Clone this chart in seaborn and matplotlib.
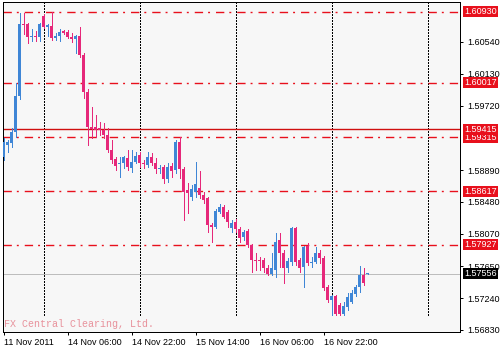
import numpy as np
import pandas as pd
import matplotlib
matplotlib.use("Agg")
import matplotlib.pyplot as plt
import matplotlib.transforms as mtransforms
import seaborn as sns

# ---------------- data (H1 candles) ----------------
opens = [1.59058, 1.59213, 1.59239, 1.59381, 1.59844, 1.60772, 1.60772, 1.60604, 1.60617, 1.60604,
         1.60875, 1.60733, 1.60746, 1.60592, 1.60617, 1.60682, 1.60669, 1.60604, 1.60579, 1.60617,
         1.60373, 1.59896, 1.59445, 1.59445, 1.59432, 1.59406, 1.59342, 1.59149, 1.59033, 1.58968,
         1.58981, 1.59046, 1.58917, 1.58994, 1.59084, 1.58981, 1.58955, 1.59058, 1.58981, 1.58904,
         1.58930, 1.58775, 1.58942, 1.58891, 1.59252, 1.58904, 1.58633, 1.58543, 1.58608, 1.58659,
         1.58569, 1.58530, 1.58182, 1.58157, 1.58350, 1.58414, 1.58350, 1.58144, 1.58221, 1.58131,
         1.58028, 1.58105, 1.57925, 1.57732, 1.57732, 1.57732, 1.57628, 1.57551, 1.57603, 1.57989,
         1.57822, 1.57628, 1.57706, 1.58144, 1.57732, 1.57641, 1.57912, 1.57693, 1.57706, 1.57822,
         1.57757, 1.57384, 1.57216, 1.57268, 1.57152, 1.57036, 1.57126, 1.57190, 1.57293, 1.57384,
         1.57538, 1.57550]
highs = [1.59303, 1.59277, 1.59432, 1.60017, 1.60914, 1.60914, 1.60785, 1.60707, 1.60682, 1.60785,
         1.60901, 1.60772, 1.60930, 1.60656, 1.60707, 1.60695, 1.60695, 1.60656, 1.60630, 1.60733,
         1.60398, 1.59935, 1.59703, 1.59600, 1.59509, 1.59497, 1.59432, 1.59277, 1.59058, 1.59058,
         1.59071, 1.59149, 1.59149, 1.59123, 1.59123, 1.59020, 1.59123, 1.59110, 1.59046, 1.58955,
         1.58955, 1.58981, 1.58981, 1.59277, 1.59315, 1.58930, 1.58723, 1.58698, 1.58994, 1.58878,
         1.58608, 1.58543, 1.58208, 1.58389, 1.58453, 1.58440, 1.58376, 1.58247, 1.58260, 1.58157,
         1.58118, 1.58131, 1.57938, 1.57822, 1.57770, 1.57757, 1.57667, 1.57822, 1.58079, 1.58079,
         1.57860, 1.57757, 1.58157, 1.58157, 1.57757, 1.57912, 1.57951, 1.57770, 1.57899, 1.57860,
         1.57783, 1.57409, 1.57280, 1.57280, 1.57177, 1.57190, 1.57306, 1.57345, 1.57409, 1.57654,
         1.57628, 1.57558]
lows = [1.59020, 1.59123, 1.59187, 1.59316, 1.59806, 1.60643, 1.60527, 1.60553, 1.60553, 1.60553,
        1.60720, 1.60617, 1.60566, 1.60566, 1.60553, 1.60643, 1.60592, 1.60540, 1.60398, 1.60347,
        1.59819, 1.59213, 1.59303, 1.59316, 1.59342, 1.59303, 1.59123, 1.58981, 1.58891, 1.58801,
        1.58917, 1.58891, 1.58865, 1.58981, 1.58930, 1.58917, 1.58930, 1.58955, 1.58852, 1.58852,
        1.58723, 1.58736, 1.58801, 1.58852, 1.58788, 1.58247, 1.58337, 1.58504, 1.58543, 1.58530,
        1.58466, 1.58092, 1.57963, 1.58144, 1.58337, 1.58273, 1.58157, 1.58092, 1.58092, 1.57963,
        1.57989, 1.57899, 1.57577, 1.57603, 1.57603, 1.57577, 1.57538, 1.57538, 1.57513, 1.57641,
        1.57435, 1.57577, 1.57667, 1.57667, 1.57577, 1.57384, 1.57667, 1.57641, 1.57693, 1.57693,
        1.57345, 1.57190, 1.57023, 1.57023, 1.57023, 1.57023, 1.57087, 1.57177, 1.57268, 1.57319,
        1.57409, 1.57548]
closes = [1.59252, 1.59252, 1.59381, 1.59844, 1.60772, 1.60759, 1.60604, 1.60617, 1.60604, 1.60772,
          1.60733, 1.60759, 1.60592, 1.60617, 1.60669, 1.60656, 1.60604, 1.60579, 1.60617, 1.60373,
          1.59896, 1.59445, 1.59419, 1.59406, 1.59406, 1.59342, 1.59149, 1.59020, 1.58942, 1.58981,
          1.59058, 1.58930, 1.58994, 1.59071, 1.58981, 1.58968, 1.59058, 1.58981, 1.58904, 1.58917,
          1.58775, 1.58930, 1.58878, 1.59252, 1.58904, 1.58608, 1.58595, 1.58646, 1.58711, 1.58569,
          1.58504, 1.58182, 1.58157, 1.58363, 1.58414, 1.58286, 1.58221, 1.58208, 1.58131, 1.58015,
          1.58092, 1.57925, 1.57732, 1.57719, 1.57719, 1.57628, 1.57551, 1.57628, 1.57963, 1.57822,
          1.57628, 1.57719, 1.58144, 1.57706, 1.57628, 1.57899, 1.57693, 1.57706, 1.57822, 1.57757,
          1.57371, 1.57216, 1.57268, 1.57036, 1.57036, 1.57139, 1.57255, 1.57306, 1.57384, 1.57538,
          1.57435, 1.57556]

xtick_pos = [0, 16, 32, 48, 64, 80]
xtick_labels = ["11 Nov 2011", "14 Nov 06:00", "14 Nov 22:00", "15 Nov 14:00",
                "16 Nov 06:00", "16 Nov 22:00"]
ytick_vals = [1.60540, 1.60130, 1.59720, 1.58890, 1.58480, 1.58070, 1.57650, 1.57240, 1.56830]
dashdot_levels = [1.60930, 1.60017, 1.59315, 1.58617, 1.57927]
solid_level = 1.59415
bid_price = 1.57556
day_separators = [10, 34, 58, 82, 106]
watermark = "FX Central Clearing, Ltd."

# ---------------- style ----------------
sns.set_theme(style="white")
plt.rcParams["font.family"] = ["Liberation Sans", "DejaVu Sans"]

BULL = "#3f86d6"
BEAR = "#e6287a"
RED = "#e8101c"
FS = 6.5
PX = 0.72  # one pixel in points at 100 dpi

df = pd.DataFrame({"open": opens, "high": highs, "low": lows, "close": closes})
df["idx"] = np.arange(len(df))
df["bull"] = df["close"] >= df["open"]
df["color"] = np.where(df["bull"], BULL, BEAR)
df["body_lo"] = df[["open", "close"]].min(axis=1)
df["body_h"] = (df["close"] - df["open"]).abs().clip(lower=0.00012)

fig = plt.figure(figsize=(5, 3.5), dpi=100)
fig.patch.set_facecolor("white")
ax = fig.add_axes([3 / 500, 18 / 350, 457 / 500, 330 / 350])
ax.set_facecolor("#f7f7f7")

ax.set_xlim(-0.125, 114.125)
ax.set_ylim(1.56804, 1.61055)

# day separators
for d in day_separators:
    ax.axvline(d, ymin=0.052, ymax=1, color="black", lw=PX,
               linestyle=(0, (2, 2)), zorder=1, antialiased=False)

# horizontal levels (dash-dot style, with a soft halo like the anti-aliased original)
for lv in dashdot_levels:
    ax.axhline(lv, color=RED, lw=1.0, linestyle=(0, (6, 3.6, 1.4, 4.3)), zorder=2,
               antialiased=True)
ax.axhline(solid_level, color="#d01010", lw=1.0, zorder=2, antialiased=True)
ax.axhline(bid_price, color="#bdbdbd", lw=PX, zorder=2, antialiased=False)

# candles
ax.vlines(df["idx"], df["low"], df["high"], colors=df["color"], lw=PX, zorder=3,
          antialiased=False)
ax.bar(df["idx"], df["body_h"], bottom=df["body_lo"], width=0.75,
       color=df["color"], linewidth=0, zorder=4, antialiased=False)

# axes cosmetics
for s in ax.spines.values():
    s.set_visible(True)
    s.set_color("black")
    s.set_linewidth(PX)
ax.grid(False)
ax.yaxis.tick_right()
ax.set_yticks(ytick_vals, [f"{v:.5f}" for v in ytick_vals])
ax.set_xticks(xtick_pos, xtick_labels, ha="left")
ax.tick_params(axis="both", which="both", direction="out", length=2.5, width=PX,
               color="black", labelsize=FS, labelcolor="black")
ax.tick_params(axis="y", pad=2.5, right=True, left=False)
ax.tick_params(axis="x", pad=1.5, bottom=True)
for lab in ax.get_xticklabels():
    lab.set_horizontalalignment("left")

# price labels on the right
trans = mtransforms.blended_transform_factory(ax.transAxes, ax.transData)
xl = (464.5 - 3) / 457
for lv in dashdot_levels:
    ax.text(xl, lv, f"{lv:.5f}", transform=trans, ha="left", va="center",
            color="white", fontsize=FS, clip_on=False, zorder=10,
            bbox=dict(boxstyle="square,pad=0.12", fc=RED, ec="none"))
ax.text(xl, solid_level, f"{solid_level:.5f}", transform=trans, ha="left", va="center",
        color="white", fontsize=FS, clip_on=False, zorder=11,
        bbox=dict(boxstyle="square,pad=0.12", fc=RED, ec="none"))
ax.text(xl, bid_price, f"{bid_price:.5f}", transform=trans, ha="left", va="center",
        color="white", fontsize=FS, clip_on=False, zorder=11,
        bbox=dict(boxstyle="square,pad=0.12", fc="black", ec="none"))

# watermark
ax.text((4 - 3) / 457, (332 - 324) / 330, watermark, transform=ax.transAxes,
        ha="left", va="center", fontsize=7.2, color="#e8919b",
        family=["Liberation Mono", "DejaVu Sans Mono"], zorder=5)

fig.savefig("out.png", dpi=100)
